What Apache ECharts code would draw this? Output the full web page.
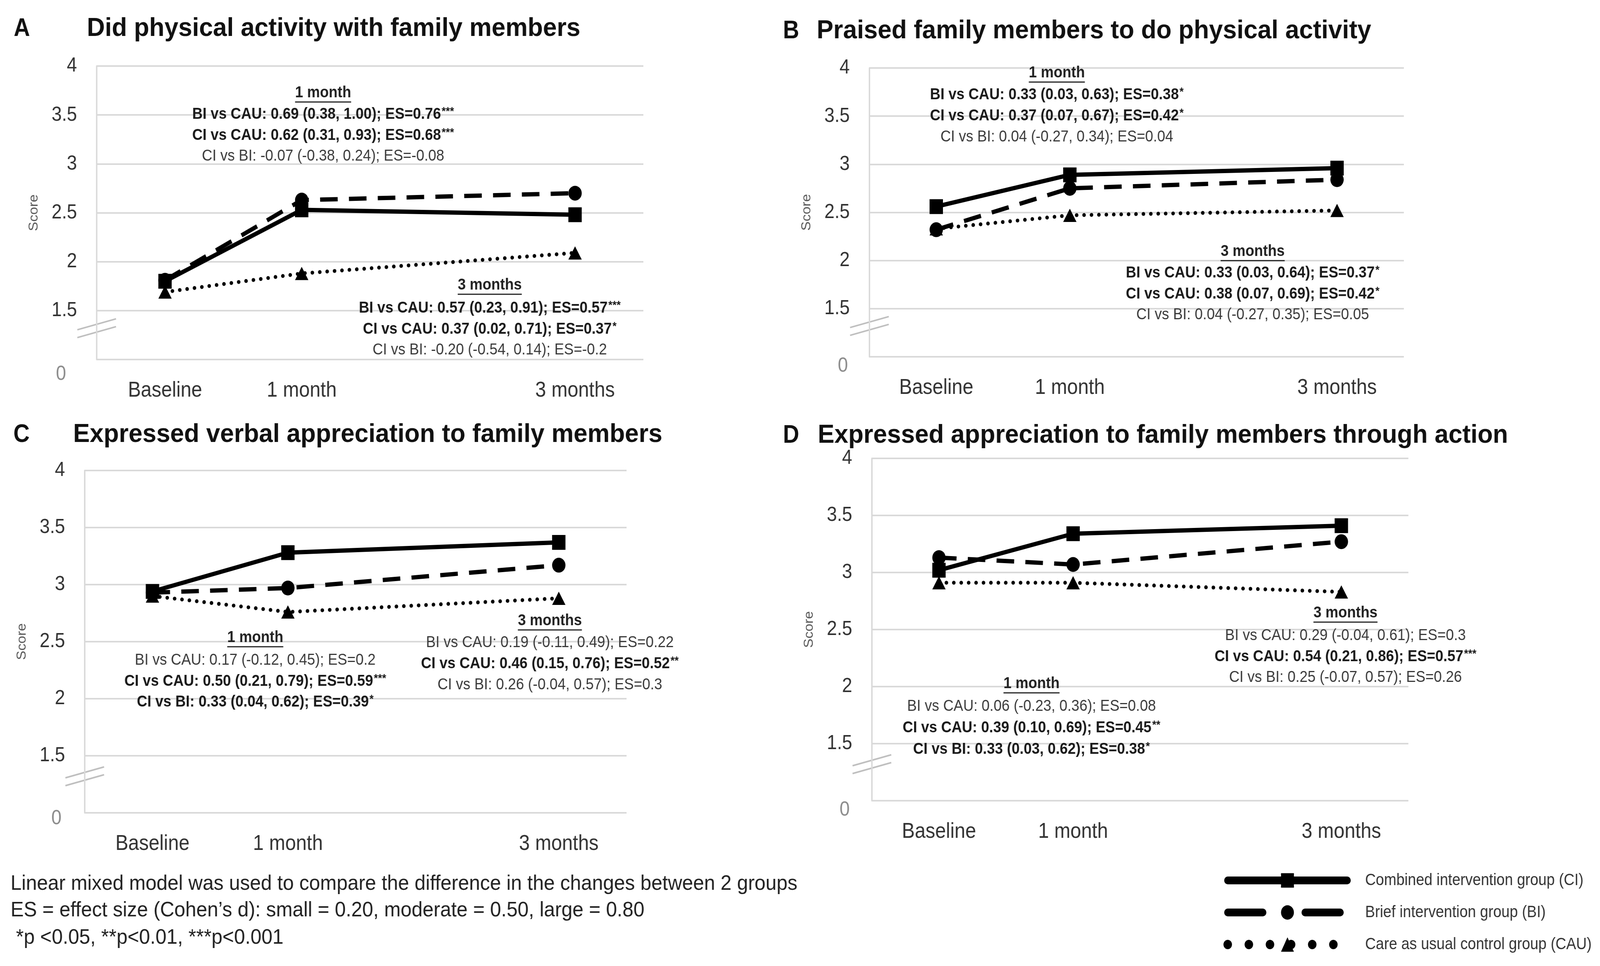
<!DOCTYPE html>
<html><head><meta charset="utf-8">
<script src="https://cdn.jsdelivr.net/npm/echarts@6/dist/echarts.min.js"></script>
<style>html,body{margin:0;padding:0;background:#fff;overflow:hidden}#c{width:4551px;height:2472px;transform-origin:0 0}</style>
</head><body><div id="c"></div>
<script>
// ---------- DATA ----------
const timePoints = [0, 1, 3];
const timeLabels = ['Baseline', '1 month', '3 months'];
const yTickValues = [1, 1.5, 2, 2.5, 3, 3.5, 4];
const yTickLabels = ['0', '1.5', '2', '2.5', '3', '3.5', '4'];
const groupNames = ['Combined intervention group (CI)', 'Brief intervention group (BI)', 'Care as usual control group (CAU)'];
const panelLetters = ['A', 'B', 'C', 'D'];
const panelTitles = [
  'Did physical activity with family members',
  'Praised family members to do physical activity',
  'Expressed verbal appreciation to family members',
  'Expressed appreciation to family members through action'
];
const ciA = [1.80, 2.53, 2.48];
const biA = [1.81, 2.63, 2.70];
const cauA = [1.69, 1.88, 2.09];
const ciB = [2.56, 2.89, 2.96];
const biB = [2.32, 2.75, 2.84];
const cauB = [2.33, 2.47, 2.52];
const ciC = [2.94, 3.28, 3.37];
const biC = [2.93, 2.97, 3.17];
const cauC = [2.90, 2.76, 2.88];
const ciD = [3.02, 3.34, 3.41];
const biD = [3.13, 3.07, 3.27];
const cauD = [2.91, 2.91, 2.83];

const notesA1 = ['1 month', 'BI vs CAU: 0.69 (0.38, 1.00); ES=0.76***', 'CI vs CAU: 0.62 (0.31, 0.93); ES=0.68***', 'CI vs BI: -0.07 (-0.38, 0.24); ES=-0.08'];
const boldA1 = [true, true, false];
const notesA3 = ['3 months', 'BI vs CAU: 0.57 (0.23, 0.91); ES=0.57***', 'CI vs CAU: 0.37 (0.02, 0.71); ES=0.37*', 'CI vs BI: -0.20 (-0.54, 0.14); ES=-0.2'];
const boldA3 = [true, true, false];
const notesB1 = ['1 month', 'BI vs CAU: 0.33 (0.03, 0.63); ES=0.38*', 'CI vs CAU: 0.37 (0.07, 0.67); ES=0.42*', 'CI vs BI: 0.04 (-0.27, 0.34); ES=0.04'];
const boldB1 = [true, true, false];
const notesB3 = ['3 months', 'BI vs CAU: 0.33 (0.03, 0.64); ES=0.37*', 'CI vs CAU: 0.38 (0.07, 0.69); ES=0.42*', 'CI vs BI: 0.04 (-0.27, 0.35); ES=0.05'];
const boldB3 = [true, true, false];
const notesC1 = ['1 month', 'BI vs CAU: 0.17 (-0.12, 0.45); ES=0.2', 'CI vs CAU: 0.50 (0.21, 0.79); ES=0.59***', 'CI vs BI: 0.33 (0.04, 0.62); ES=0.39*'];
const boldC1 = [false, true, true];
const notesC3 = ['3 months', 'BI vs CAU: 0.19 (-0.11, 0.49); ES=0.22', 'CI vs CAU: 0.46 (0.15, 0.76); ES=0.52**', 'CI vs BI: 0.26 (-0.04, 0.57); ES=0.3'];
const boldC3 = [false, true, false];
const notesD1 = ['1 month', 'BI vs CAU: 0.06 (-0.23, 0.36); ES=0.08', 'CI vs CAU: 0.39 (0.10, 0.69); ES=0.45**', 'CI vs BI: 0.33 (0.03, 0.62); ES=0.38*'];
const boldD1 = [false, true, true];
const notesD3 = ['3 months', 'BI vs CAU: 0.29 (-0.04, 0.61); ES=0.3', 'CI vs CAU: 0.54 (0.21, 0.86); ES=0.57***', 'CI vs BI: 0.25 (-0.07, 0.57); ES=0.26'];
const boldD3 = [false, true, false];

const footnotes = [
  'Linear mixed model was used to compare the difference in the changes between 2 groups',
  'ES = effect size (Cohen\u2019s d): small = 0.20, moderate = 0.50, large = 0.80',
  ' *p <0.05, **p<0.01, ***p<0.001'
];

// ---------- LAYOUT ----------
const FF = '"Liberation Sans", Arial, sans-serif';
const panels = [
  {ci: ciA, bi: biA, cau: cauA, notes: [[notesA1, boldA1], [notesA3, boldA3]]},
  {ci: ciB, bi: biB, cau: cauB, notes: [[notesB1, boldB1], [notesB3, boldB3]]},
  {ci: ciC, bi: biC, cau: cauC, notes: [[notesC1, boldC1], [notesC3, boldC3]]},
  {ci: ciD, bi: biD, cau: cauD, notes: [[notesD1, boldD1], [notesD3, boldD3]]}
];
const layout = [
  {grid: {left: 275, top: 169, width: 1555, height: 751}, letterX: 62, titleX: 247, titleY: 74, zero: [31, 38],
   notePos: [[919, 238, 293, 53.5], [1393, 730, 789, 53.5]]},
  {grid: {left: 2473, top: 174, width: 1520, height: 739}, letterX: 2250, titleX: 2323, titleY: 80, zero: [5, 24],
   notePos: [[3006, 187, 243, 54], [3563, 644, 699, 53.5]]},
  {grid: {left: 241, top: 1204, width: 1541, height: 876}, letterX: 61, titleX: 208, titleY: 1113, zero: [10, 15],
   notePos: [[726, 1632, 1690, 53.5], [1564, 1589, 1645, 54]]},
  {grid: {left: 2480, top: 1173, width: 1526, height: 876}, letterX: 2250, titleX: 2326, titleY: 1115, zero: [7, 24],
   notePos: [[2934, 1750, 1808, 55], [3827, 1569, 1627, 53.5]]}
];

// fit the 4551-wide figure into the actual viewport width
const cEl = document.getElementById('c');
const sx = Math.min(1, window.innerWidth / 4551);
cEl.style.transform = 'scaleX(' + sx + ')';

const mctx = document.createElement('canvas').getContext('2d');
function measure(t, font) { mctx.font = font; return mctx.measureText(t).width; }

const grids = [], xAxes = [], yAxes = [], series = [];
const elements = [];

panels.forEach((p, i) => {
  const L = layout[i];
  grids.push(Object.assign({containLabel: false}, L.grid));
  xAxes.push({
    type: 'value', gridIndex: i, min: -0.5, max: 3.5, interval: 0.5,
    axisLine: {show: false}, axisTick: {show: false}, splitLine: {show: false},
    axisLabel: {
      margin: 52, fontSize: 55, color: '#333', fontFamily: FF,
      showMinLabel: true, showMaxLabel: true,
      formatter: v => { const k = timePoints.indexOf(v); return k >= 0 ? timeLabels[k] : ''; }
    }
  });
  yAxes.push({
    type: 'value', gridIndex: i, min: 1, max: 4, interval: 0.5,
    name: 'Score', nameLocation: 'middle', nameGap: 160, nameRotate: 90,
    nameTextStyle: {fontSize: 36, color: '#595959', fontFamily: FF},
    axisLine: {show: true, onZero: false, lineStyle: {color: '#d9d9d9', width: 4}},
    axisTick: {show: false},
    splitLine: {show: true, lineStyle: {color: '#d9d9d9', width: 4}},
    axisLabel: {
      margin: 56, fontSize: 52, color: '#333', fontFamily: FF,
      formatter: v => {
        const k = yTickValues.indexOf(v);
        if (k < 0) return '';
        return k === 0 ? '{z|' + yTickLabels[k] + '}' : yTickLabels[k];
      },
      rich: {z: {fontSize: 52, color: '#8c8c8c', fontFamily: FF, padding: [L.zero[1] * 2, L.zero[0], 0, 0]}}
    }
  });
  const mk = arr => arr.map((v, k) => [timePoints[k], v]);
  series.push({
    name: groupNames[2], type: 'line', xAxisIndex: i, yAxisIndex: i, data: mk(p.cau),
    symbol: 'triangle', symbolSize: [38, 34], z: 3,
    lineStyle: {color: '#000', width: 10, type: [0.1, 21], cap: 'round'},
    itemStyle: {color: '#000'}, animation: false
  });
  series.push({
    name: groupNames[1], type: 'line', xAxisIndex: i, yAxisIndex: i, data: mk(p.bi),
    symbol: 'circle', symbolSize: 38, z: 4,
    lineStyle: {color: '#000', width: 11, type: [50, 32]},
    itemStyle: {color: '#000'}, animation: false
  });
  series.push({
    name: groupNames[0], type: 'line', xAxisIndex: i, yAxisIndex: i, data: mk(p.ci),
    symbol: 'rect', symbolSize: [38, 38], z: 5,
    lineStyle: {color: '#000', width: 11},
    itemStyle: {color: '#000'}, animation: false
  });

  // panel letter and title
  elements.push({type: 'text', x: L.letterX, y: L.titleY, style: {text: panelLetters[i], font: 'bold 64px ' + FF, fill: '#111', textAlign: 'center', textVerticalAlign: 'middle'}});
  elements.push({type: 'text', x: L.titleX, y: L.titleY, scaleX: 1.075, style: {text: panelTitles[i], font: 'bold 66px ' + FF, fill: '#111', textAlign: 'left', textVerticalAlign: 'middle'}});

  // annotations
  p.notes.forEach((nb, j) => {
    const [texts, bolds] = nb;
    const [cx, yHead, yFirst, step] = L.notePos[j];
    const headFont = 'bold 41px ' + FF;
    const hw = measure(texts[0], headFont);
    elements.push({type: 'text', x: cx, y: yHead, style: {text: texts[0], font: headFont, fill: '#222', textAlign: 'center', textVerticalAlign: 'middle'}});
    elements.push({type: 'line', shape: {x1: cx - hw / 2, y1: yHead + 23, x2: cx + hw / 2, y2: yHead + 23}, style: {stroke: '#222', lineWidth: 3}});
    for (let k = 1; k < texts.length; k++) {
      const m = texts[k].match(/^(.*?)(\*+)$/);
      const main = m ? m[1] : texts[k];
      const stars = m ? m[2] : '';
      const font = (bolds[k - 1] ? 'bold ' : '') + '41px ' + FF;
      const starFont = 'bold 30px ' + FF;
      const w1 = measure(main, font);
      const w2 = stars ? measure(stars, starFont) + 2 : 0;
      const x0 = cx - (w1 + w2) / 2;
      const y = yFirst + (k - 1) * step;
      const col = bolds[k - 1] ? '#1a1a1a' : '#3a3a3a';
      elements.push({type: 'text', x: x0, y: y, style: {text: main, font: font, fill: col, textAlign: 'left', textVerticalAlign: 'middle'}});
      if (stars) elements.push({type: 'text', x: x0 + w1 + 2, y: y - 7, style: {text: stars, font: starFont, fill: col, textAlign: 'left', textVerticalAlign: 'middle'}});
    }
  });
});

// footnotes
const footY = [2262, 2330, 2400];
footnotes.forEach((t, k) => {
  elements.push({type: 'text', x: 30, y: footY[k], scaleX: 1.06, style: {text: t, font: '53px ' + FF, fill: '#222', textAlign: 'left', textVerticalAlign: 'middle'}});
});

const chart = echarts.init(cEl);
chart.setOption({
  backgroundColor: '#fff',
  animation: false,
  grid: grids, xAxis: xAxes, yAxis: yAxes, series: series,
  legend: {
    left: 3475, top: 2227, orient: 'vertical', itemWidth: 340, itemHeight: 46, itemGap: 40,
    selectedMode: false,
    textStyle: {fontSize: 42, color: '#333', fontFamily: FF, padding: [0, 0, 0, 46]},
    data: [
      {name: groupNames[0], lineStyle: {width: 20, cap: 'round'}},
      {name: groupNames[1], lineStyle: {width: 20, type: [100, 120], cap: 'round'}},
      {name: groupNames[2], lineStyle: {width: 24, type: [0.1, 60], cap: 'round'}}
    ]
  }
});

// axis-break marks (decoration), anchored to the axis through the chart's scales
layout.forEach((L, i) => {
  const pt = chart.convertToPixel({gridIndex: i}, [-0.5, 1.32]);
  [-10, 10].forEach(d => {
    elements.push({type: 'line', shape: {x1: pt[0] - 55, y1: pt[1] + d + 14, x2: pt[0] + 55, y2: pt[1] + d - 14}, style: {stroke: '#bfbfbf', lineWidth: 4}});
  });
});
chart.setOption({graphic: {elements: elements}});
</script>
</body></html>
